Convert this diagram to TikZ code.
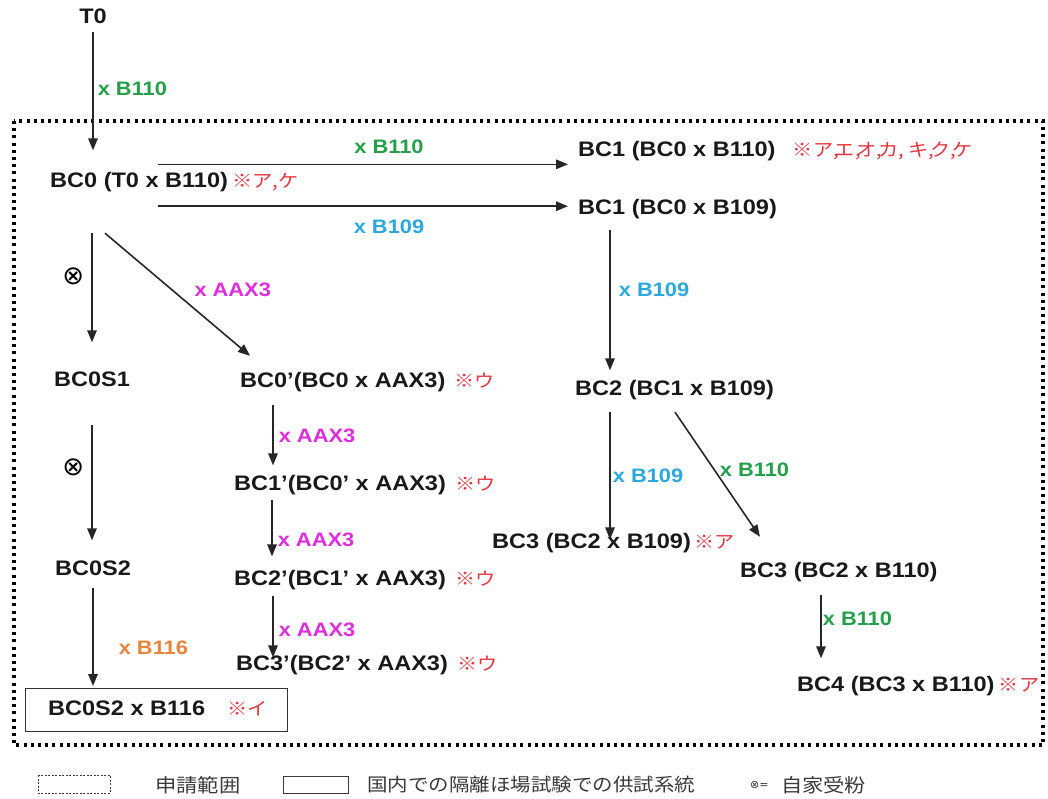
\documentclass[tikz,border=0pt]{standalone}
\usepackage{fontspec}
\setmainfont[FakeStretch=1.12]{Liberation Sans}
\newfontfamily\jpfont[FakeStretch=1.12]{Noto Sans CJK JP}
\newfontfamily\symfont{DejaVu Sans}
\usetikzlibrary{arrows.meta, positioning, calc}
\definecolor{linkgreen}{HTML}{24A04A}
\definecolor{linkcyan}{HTML}{2CA8E0}
\definecolor{linkpink}{HTML}{E02CE0}
\definecolor{linkorange}{HTML}{E8843C}
\definecolor{notered}{HTML}{E8343C}
\definecolor{legendgray}{HTML}{3A3A3A}
% tight comma between note marks
\newcommand\nsep{,\kern-4pt}

\begin{document}
\begin{tikzpicture}[
  x=1pt, y=1pt,
  lab/.style={anchor=west, inner sep=0pt, text height=15pt, text depth=4pt, text=black!90, font=\fontsize{21}{24}\selectfont\bfseries},
  note/.style={inner sep=0pt, text height=15pt, text depth=4pt, text=notered, font=\jpfont\fontsize{18}{22}\selectfont},
  xlab/.style={inner sep=0pt, font=\fontsize{19.5}{22}\selectfont\bfseries},
  cross/.style={inner sep=0pt, font=\symfont\fontsize{26}{28}\selectfont},
  arr/.style={-{Triangle[length=12pt,width=9.5pt]}, line width=1.6pt, draw=black!85},
  legend/.style={anchor=west, inner sep=0pt, text=legendgray, font=\jpfont\fontsize{19}{22}\selectfont}
]
  \useasboundingbox (0,0) rectangle (1048,-798);

  % application range
  \draw[line width=3.2pt, dash pattern=on 3pt off 4.2pt] (14,-121) rectangle (1043,-745);

  \node[lab, anchor=center] (t0) at (93,-18) {T0};
  \node[lab] (bc0) at (50,-182) {BC0 (T0 x B110)};
  \node[note, right=4pt of bc0] (n-bc0) {※ア,ケ};

  % B110 / B109 line
  \node[lab] (bc1a) at (578,-151) {BC1 (BC0 x B110)};
  \node[note, right=17pt of bc1a] (n-bc1a) {※ア\nsep エ\nsep オ\nsep カ, キ\nsep ク\nsep ケ};
  \node[lab] (bc1b) at (578,-209) {BC1 (BC0 x B109)};
  \node[lab] (bc2) at (575,-390) {BC2 (BC1 x B109)};
  \node[lab] (bc3a) at (492,-543) {BC3 (BC2 x B109)};
  \node[note, right=3pt of bc3a] (n-bc3a) {※ア};
  \node[lab] (bc3b) at (740,-572) {BC3 (BC2 x B110)};
  \node[lab] (bc4) at (797,-686) {BC4 (BC3 x B110)};
  \node[note, right=4pt of bc4] (n-bc4) {※ア};

  % selfing line
  \node[lab, anchor=center] (bc0s1) at (92,-381) {BC0S1};
  \node[lab, anchor=center] (bc0s2) at (93,-570) {BC0S2};
  \node[draw=black!80, line width=1.2pt, anchor=north west, minimum width=262pt, minimum height=43pt, inner sep=0pt] (trial) at (25,-688) {};
  \node[lab] (bc0s2b) at (48,-710) {BC0S2 x B116};
  \node[note, right=22pt of bc0s2b] (n-bc0s2b) {※イ};

  % AAX3 line
  \node[lab] (bc0p) at (240,-382) {BC0’(BC0 x AAX3)};
  \node[note, right=9pt of bc0p] (n-bc0p) {※ウ};
  \node[lab] (bc1p) at (234,-485) {BC1’(BC0’ x AAX3)};
  \node[note, right=9pt of bc1p] (n-bc1p) {※ウ};
  \node[lab] (bc2p) at (234,-580) {BC2’(BC1’ x AAX3)};
  \node[note, right=9pt of bc2p] (n-bc2p) {※ウ};
  \node[lab] (bc3p) at (236,-665) {BC3’(BC2’ x AAX3)};
  \node[note, right=9pt of bc3p] (n-bc3p) {※ウ};

  \coordinate (s1) at ($(bc0.north west)+(108,8)$);
  \coordinate (s2) at ($(bc0.south west)+(108,-14.5)$);

  \draw[arr, shorten <=4pt, shorten >=22pt] (t0) -- (t0 |- bc0.north)
    node[xlab, text=linkgreen, pos=0.42, right=4pt] (l-t0) {x B110};
  \draw[arr, shorten >=10pt] (s1) -- (s1 -| bc1a.west)
    node[xlab, text=linkgreen, pos=0.55, above=10pt] (l-bc1a) {x B110};
  \draw[arr, shorten >=10pt] (s2) -- (s2 -| bc1b.west)
    node[xlab, text=linkcyan, pos=0.55, below=13pt] (l-bc1b) {x B109};
  \draw[arr, shorten <=11pt, shorten >=10pt] ([xshift=32pt]bc1b.south west) -- ([xshift=35pt]bc2.north west)
    node[xlab, text=linkcyan, pos=0.44, right=8pt] (l-bc2) {x B109};
  \draw[arr, shorten <=12pt, shorten >=-6pt] ([xshift=35pt]bc2.south west) -- ([xshift=118pt]bc3a.north west)
    node[xlab, text=linkcyan, pos=0.57, right=2pt] (l-bc3a) {x B109};
  \draw[arr] ($(bc2.south west)+(100,-12.5)$) -- ($(bc3b.north west)+(20,25.5)$)
    node[xlab, text=linkgreen, pos=0.46, right=5pt] (l-bc3b) {x B110};
  \draw[arr, shorten <=13pt, shorten >=18pt] ([xshift=81pt]bc3b.south west) -- ([xshift=24pt]bc4.north west)
    node[xlab, text=linkgreen, pos=0.39, right=1pt] (l-bc4) {x B110};

  \draw[arr, shorten <=41pt, shorten >=29pt] (bc0s1 |- bc0.south) -- (bc0s1.north)
    node[cross, pos=0.47, left=7pt] (x-bc0s1) {⊗};
  \draw[arr, shorten <=34pt, shorten >=20pt] (bc0s1) -- (bc0s1 |- bc0s2.north)
    node[cross, pos=0.45, left=7pt] (x-bc0s2) {⊗};
  \draw[arr, shorten <=8pt, shorten >=2pt] (bc0s2) -- (bc0s2 |- trial.north)
    node[xlab, text=linkorange, pos=0.63, right=25pt] (l-trial) {x B116};

  \draw[arr] ($(bc0.south west)+(55,-41.5)$) -- ($(bc0p.north west)+(10,16.5)$)
    node[xlab, text=linkpink, pos=0.46, right=22pt] (l-bc0p) {x AAX3};
  \draw[arr, shorten <=13pt, shorten >=10pt] ([xshift=33pt]bc0p.south west) -- ([xshift=39pt]bc1p.north west)
    node[xlab, text=linkpink, pos=0.53, right=5pt] (l-bc1p) {x AAX3};
  \draw[arr, shorten <=5pt, shorten >=14pt] ([xshift=38pt]bc1p.south west) -- ([xshift=38pt]bc2p.north west)
    node[xlab, text=linkpink, pos=0.6, right=5pt] (l-bc2p) {x AAX3};
  \draw[arr, shorten <=6pt, shorten >=-2pt] ([xshift=39pt]bc2p.south west) -- ([xshift=37pt]bc3p.north west)
    node[xlab, text=linkpink, pos=0.61, right=5pt] (l-bc3p) {x AAX3};

  % legend
  \draw[legendgray, line width=0.8pt, dash pattern=on 2pt off 1.5pt] (38,-775) rectangle (110,-793);
  \node[legend] (lg-range) at (155,-785) {申請範囲};
  \draw[legendgray, line width=1pt] (283,-776) rectangle (348,-793);
  \node[legend, font=\jpfont\fontsize{18.3}{22}\selectfont] (lg-trial) at (367,-785) {国内での隔離ほ場試験での供試系統};
  \node[legend, font=\symfont\fontsize{11}{13}\selectfont] (lg-cross) at (750,-785) {⊗=};
  \node[legend, right=12pt of lg-cross] (lg-self) {自家受粉};
\end{tikzpicture}
\end{document}
